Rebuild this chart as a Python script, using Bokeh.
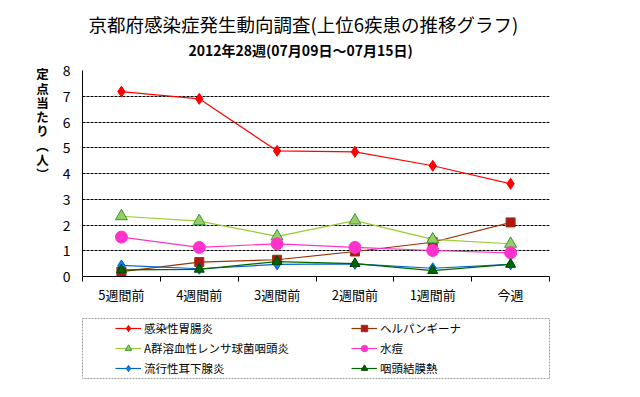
from bokeh.plotting import figure
from bokeh.models import Range1d, FixedTicker, Legend, LegendItem, Title
from bokeh.layouts import column
from bokeh.embed import file_html
from bokeh.resources import INLINE

FONT = "Noto Sans CJK JP"

categories = ["5週間前", "4週間前", "3週間前", "2週間前", "1週間前", "今週"]
y_ticks = [0, 1, 2, 3, 4, 5, 6, 7, 8]

gastro = [7.18, 6.90, 4.88, 4.84, 4.30, 3.60]        # 感染性胃腸炎
herpangina = [0.19, 0.56, 0.65, 0.97, 1.33, 2.10]    # ヘルパンギーナ
strep = [2.34, 2.15, 1.56, 2.17, 1.44, 1.27]         # A群溶血性レンサ球菌咽頭炎
varicella = [1.53, 1.13, 1.27, 1.13, 1.01, 0.92]     # 水痘
mumps = [0.43, 0.30, 0.47, 0.49, 0.32, 0.47]         # 流行性耳下腺炎
pharyngo = [0.26, 0.28, 0.58, 0.50, 0.23, 0.47]      # 咽頭結膜熱

title_text = "京都府感染症発生動向調査(上位6疾患の推移グラフ)"
subtitle_text = "2012年28週(07月09日～07月15日)"
ylabel_text = "定点当たり︵人︶"

xs = [i + 0.5 for i in range(len(categories))]

series = [
    ("感染性胃腸炎", gastro, "#FF0000", "diamond", "#FF0000", "#FF0000", 11),
    ("ヘルパンギーナ", herpangina, "#993300", "square", "#B01818", "#993300", 9),
    ("A群溶血性レンサ球菌咽頭炎", strep, "#99CC33", "triangle", "#99CC66", "#339933", 12),
    ("水痘", varicella, "#FF33CC", "circle", "#FF33CC", "#FF33CC", 12),
    ("流行性耳下腺炎", mumps, "#0066CC", "diamond", "#0080FF", "#0066CC", 11),
    ("咽頭結膜熱", pharyngo, "#006600", "triangle", "#006600", "#004400", 10),
]

W = 632
p = figure(width=W, height=312, output_backend="svg", toolbar_location=None,
           x_range=Range1d(0, len(categories)), y_range=Range1d(0, 8),
           min_border_left=82, min_border_right=32, min_border_top=70,
           min_border_bottom=36)
p.outline_line_color = None

# spacer between frame and subtitle
p.add_layout(Title(text=" ", text_font_size="1px", standoff=8), "above")
p.add_layout(Title(text=subtitle_text, text_font=FONT, text_font_size="14px",
                   text_font_style="bold", align="left", offset=106,
                   standoff=0, text_color="black"), "above")
p.add_layout(Title(text=title_text, text_font=FONT, text_font_size="18.5px",
                   text_font_style="normal", align="left", offset=6,
                   standoff=2, text_color="black"), "above")

# axes
p.xaxis.ticker = FixedTicker(ticks=xs, minor_ticks=list(range(len(categories) + 1)))
p.xaxis.major_label_overrides = {x: c for x, c in zip(xs, categories)}
p.xaxis.major_tick_line_color = None
p.xaxis.major_tick_out = 0
p.xaxis.major_tick_in = 0
p.xaxis.minor_tick_line_color = "black"
p.xaxis.minor_tick_out = 5
p.xaxis.minor_tick_in = 0
p.xaxis.major_label_standoff = 3
p.xaxis.major_label_text_font = FONT
p.xaxis.major_label_text_font_size = "13px"
p.xaxis.major_label_text_color = "black"
p.xaxis.axis_line_color = "black"

p.yaxis.ticker = FixedTicker(ticks=y_ticks)
p.yaxis.major_tick_line_color = None
p.yaxis.major_tick_out = 0
p.yaxis.major_tick_in = 0
p.yaxis.minor_tick_line_color = None
p.yaxis.major_label_standoff = 12
p.yaxis.major_label_text_font = FONT
p.yaxis.major_label_text_font_size = "14px"
p.yaxis.major_label_text_color = "black"
p.yaxis.axis_line_color = "black"
p.yaxis.axis_label = "\n".join(list(ylabel_text) + ["　"] * 7)
p.yaxis.axis_label_orientation = "horizontal"
p.yaxis.axis_label_text_font = FONT
p.yaxis.axis_label_text_font_size = "12.5px"
p.yaxis.axis_label_text_font_style = "bold"
p.yaxis.axis_label_text_line_height = 0.75
p.yaxis.axis_label_text_color = "black"
p.yaxis.axis_label_standoff = 11

p.xgrid.grid_line_color = None
p.ygrid.ticker = FixedTicker(ticks=y_ticks)
p.ygrid.grid_line_color = "black"
p.ygrid.grid_line_dash = "3 1"
p.ygrid.grid_line_width = 1

for name, vals, lc, mk, fc, ec, sz in series:
    p.line(xs, vals, line_color=lc, line_width=1.2)
    p.scatter(xs, vals, marker=mk, size=sz, fill_color=fc, line_color=ec)

# legend panel: a second figure whose frame is the legend box
q = figure(width=W, height=77, output_backend="svg", toolbar_location=None,
           x_range=Range1d(100, 101), y_range=Range1d(100, 101),
           x_axis_type=None, y_axis_type=None,
           min_border_left=78, min_border_right=W - 549, min_border_top=6,
           min_border_bottom=11)
q.grid.visible = False
q.outline_line_color = "#A0A0A0"
q.outline_line_dash = "2 1"
q.outline_line_width = 1

items = {}
for name, vals, lc, mk, fc, ec, sz in series:
    r1 = q.line(xs, vals, line_color=lc, line_width=1.2)
    r2 = q.scatter(xs, vals, marker=mk, size=7, fill_color=fc, line_color=ec)
    items[name] = LegendItem(label=name, renderers=[r1, r2])

cols = [["感染性胃腸炎", "A群溶血性レンサ球菌咽頭炎", "流行性耳下腺炎"],
        ["ヘルパンギーナ", "水痘", "咽頭結膜熱"]]
for names, xloc in zip(cols, [33, 269]):
    lg = Legend(items=[items[n] for n in names], location=(xloc, 2),
                orientation="vertical", glyph_width=26, glyph_height=16,
                label_height=16, label_standoff=3, spacing=4, padding=0,
                margin=0, border_line_color=None, background_fill_alpha=0,
                label_text_font=FONT, label_text_font_size="11.5px",
                label_text_color="black")
    q.add_layout(lg)

layout = column(p, q, spacing=0)
open("out.html", "w").write(file_html(layout, INLINE))
